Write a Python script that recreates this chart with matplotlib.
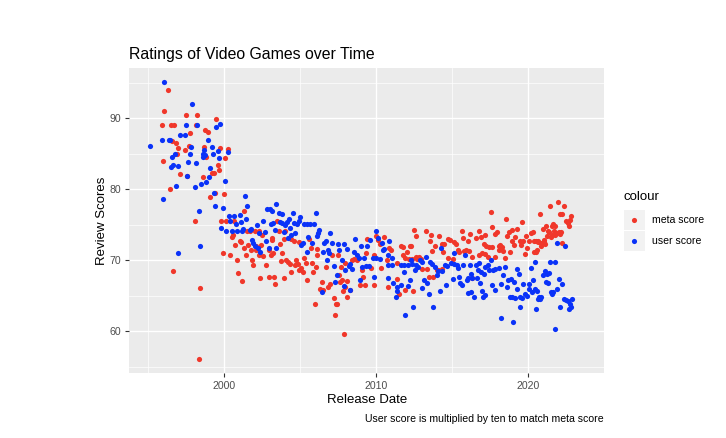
import matplotlib
matplotlib.use("Agg")
import matplotlib.pyplot as plt
from matplotlib.patches import Rectangle
from matplotlib.lines import Line2D

plt.rcParams['font.family'] = ['Liberation Sans', 'DejaVu Sans']

# ---- data (release date as decimal year, score) ----
meta_year = [
    1996.35, 1996.09, 1997.50, 1998.25, 1995.94, 1996.50, 1996.75, 1998.16, 1998.76, 1997.78,
    1996.60, 1996.83, 1998.67, 1997.69, 1996.99, 1997.44, 1996.94, 1996.03, 1997.10, 1997.57,
    1998.62, 1996.43, 1998.10, 1996.67, 1998.40, 1998.34,
    1999.50, 1998.93, 1999.76, 2000.26, 1998.80, 2000.08, 1999.60, 1999.70, 1999.23, 1999.36,
    1999.39, 1999.12, 2000.02, 2001.35, 1999.80, 2000.17, 2000.68, 1999.94, 2000.43, 2000.53,
    2000.60, 2000.75, 2001.07, 2001.13, 2001.30, 2000.85, 2001.45, 2001.60, 2000.94, 2001.17,
    2001.77, 2001.88, 2001.94, 2002.10, 2002.12, 2001.50, 2001.75, 2002.07, 2002.29, 2002.50,
    2002.42, 2002.29, 2002.60, 2002.78, 2002.37, 2003.00, 2003.30, 2003.14, 2003.20, 2003.08,
    2003.25, 2003.37,
    2003.48, 2003.60, 2004.00, 2003.97, 2004.44, 2004.60, 2004.94, 2003.69, 2002.95, 2003.85,
    2004.10, 2004.23, 2004.34, 2004.76, 2004.70, 2004.87, 2005.08, 2004.94, 2005.19, 2003.75,
    2003.95, 2004.44, 2005.40, 2005.77, 2006.05, 2005.45, 2005.26, 2005.62, 2005.72, 2006.15,
    2006.10, 2005.87, 2006.69, 2006.43, 2006.33, 2006.54, 2006.86, 2007.00, 2005.97, 2007.22,
    2007.37, 2007.47, 2007.29, 2007.90, 2007.76, 2007.97, 2007.82, 2008.08, 2007.13, 2007.54,
    2007.69,
    2007.56, 2007.67, 2008.10, 2008.31, 2008.00, 2008.46, 2008.59, 2008.74, 2008.95, 2009.27,
    2009.17, 2009.10, 2009.38, 2009.44, 2009.70, 2009.87, 2009.87, 2010.00, 2010.13, 2010.30,
    2010.34, 2010.51, 2010.88, 2010.99, 2010.72, 2011.37, 2011.52, 2010.77, 2011.62, 2011.80,
    2012.05, 2012.22, 2011.75, 2011.94, 2012.16, 2012.37, 2012.69, 2012.50, 2012.63, 2011.94,
    2012.44, 2011.37,
    2013.29, 2013.63, 2014.15, 2013.57, 2013.89, 2013.68, 2014.32, 2014.49, 2014.42, 2014.74,
    2014.85, 2015.13, 2015.28, 2015.43, 2015.64, 2015.71, 2016.03, 2016.20, 2016.56, 2016.77,
    2016.88, 2017.09, 2017.20, 2012.29, 2012.61, 2012.82, 2012.99, 2013.03, 2013.36, 2013.46,
    2013.78, 2014.00, 2014.10, 2014.32, 2014.74, 2015.06, 2015.49, 2015.77, 2015.92, 2016.13,
    2016.35, 2016.77, 2017.16, 2016.35,
    2017.54, 2018.54, 2019.61, 2020.79, 2021.45, 2021.96, 2022.09, 2017.22, 2017.43, 2017.64,
    2017.86, 2017.97, 2018.07, 2018.18, 2018.29, 2018.07, 2018.33, 2017.82, 2017.39, 2018.46,
    2018.61, 2018.76, 2018.93, 2018.97, 2018.82, 2019.10, 2019.31, 2019.18, 2019.46, 2019.67,
    2019.57, 2019.78, 2019.95, 2019.89, 2020.04, 2020.21, 2020.32, 2020.42, 2020.53, 2020.59,
    2020.68, 2020.85, 2020.96, 2021.06, 2021.17, 2021.28, 2021.32, 2021.49, 2021.60, 2021.70,
    2021.81, 2022.03, 2022.13, 2016.96, 2017.64,
    2022.39, 2022.22, 2022.86, 2022.74, 2022.52, 2022.65, 2022.70, 2021.67, 2021.80, 2021.41,
    2021.58, 2021.88, 2022.16, 2020.51, 2020.66, 2020.88, 2021.03, 2021.09, 2020.39, 2022.27,
]
meta_score = [
    94.0, 91.0, 90.5, 90.5, 89.0, 89.0, 89.0, 89.0, 88.3, 88.0,
    86.8, 86.5, 86.0, 86.1, 85.8, 85.5, 85.0, 84.0, 82.1, 81.9,
    81.8, 80.1, 75.6, 68.5, 66.1, 56.1,
    89.9, 88.1, 85.8, 85.7, 84.6, 84.4, 83.5, 82.8, 82.3, 82.3,
    79.5, 79.0, 79.3, 76.9, 75.6, 75.6, 75.6, 71.1, 70.8, 73.3,
    73.6, 72.2, 72.7, 72.6, 71.7, 70.0, 70.8, 72.2, 68.2, 67.1,
    71.5, 70.0, 69.3, 71.4, 72.1, 74.1, 74.1, 74.1, 74.1, 73.6,
    72.2, 70.7, 70.6, 69.3, 67.5, 67.7, 67.7, 72.9, 73.1, 70.8,
    71.0, 66.7,
    75.5, 74.1, 74.2, 73.0, 73.0, 72.8, 72.6, 72.3, 71.5, 71.1,
    70.1, 69.8, 69.5, 70.1, 69.3, 69.5, 68.9, 68.6, 68.3, 69.9,
    67.5, 68.3, 69.6, 69.6, 69.1, 67.2, 70.4, 73.0, 71.8, 71.6,
    70.7, 68.3, 69.1, 66.9, 66.0, 65.8, 66.2, 66.7, 63.8, 64.7,
    63.9, 63.9, 62.3, 59.6, 67.2, 66.2, 65.7, 64.8, 70.8, 70.7,
    69.1,
    67.9, 67.0, 67.1, 65.9, 69.7, 70.0, 70.2, 70.0, 66.5, 66.6,
    67.7, 68.6, 71.1, 73.0, 69.0, 66.5, 70.7, 73.5, 72.9, 72.3,
    69.0, 73.3, 71.7, 71.5, 70.0, 67.4, 65.3, 66.2, 72.0, 71.9,
    71.2, 72.0, 70.7, 70.4, 70.2, 70.2, 70.2, 74.3, 73.5, 65.9,
    65.7, 69.7,
    74.1, 73.6, 73.5, 72.8, 72.1, 71.3, 72.3, 72.3, 71.15, 73.0,
    72.9, 72.6, 72.3, 71.4, 74.2, 73.2, 72.8, 73.7, 73.2, 74.1,
    73.3, 72.3, 73.6, 72.1, 70.45, 70.5, 70.2, 68.8, 68.8, 67.6,
    67.6, 68.7, 68.6, 68.8, 70.3, 70.2, 71.15, 71.3, 71.5, 71.3,
    70.45, 70.7, 70.9, 67.5,
    76.8, 75.8, 75.4, 76.5, 77.6, 78.2, 76.5, 72.1, 71.85, 71.85,
    73.7, 73.96, 72.1, 72.2, 71.85, 71.4, 71.3, 70.45, 70.5, 70.35,
    73.5, 73.96, 74.3, 72.8, 71.2, 72.2, 74.4, 73.35, 72.8, 72.7,
    72.2, 70.9, 71.8, 73.5, 72.8, 73.8, 73.96, 72.8, 71.15, 71.4,
    72.8, 72.1, 74.4, 72.6, 74.9, 73.5, 74.1, 73.35, 74.9, 74.2,
    73.6, 73.96, 73.7, 71.0, 74.7,
    77.7, 76.5, 76.2, 75.75, 75.6, 75.3, 74.8, 75.1, 74.8, 74.0,
    73.55, 73.8, 74.0, 72.8, 72.6, 72.4, 72.9, 72.3, 71.2, 72.4,
]

user_year = [
    1996.09, 1997.93, 1997.52, 1998.25, 1995.94, 1996.39, 1996.47, 1997.10, 1997.44, 1995.17,
    1997.87, 1997.76, 1996.82, 1996.60, 1998.60, 1998.65, 1997.67, 1998.18, 1996.67, 1996.99,
    1996.50, 1997.57, 1996.83, 1998.10, 1998.50, 1998.85, 1996.03, 1998.34, 1998.40, 1997.00,
    1999.50, 1999.76, 1998.94, 1999.19, 1998.67, 1998.76, 1999.26, 1999.62, 2000.26, 1999.70,
    1999.10, 1999.00, 2000.08, 1999.36, 1999.44, 1999.94, 2001.37, 2001.50, 2000.37, 2000.64,
    2001.03, 2000.40, 2000.79, 2001.13, 2001.43, 1999.80, 2000.17, 2000.53, 2000.85, 2001.22,
    2001.28, 2001.69, 2001.80, 2001.86, 2001.92, 2002.03, 2002.24, 2002.15, 2002.30, 2002.69,
    2002.56, 2003.08, 2003.25, 2002.78, 2003.00, 2002.40, 2002.86, 2003.03, 2003.20, 2003.46,
    2003.35, 2003.40,
    2003.60, 2003.85, 2004.53, 2006.05, 2003.70, 2003.85, 2004.00, 2004.15, 2004.27, 2004.60,
    2004.80, 2004.94, 2005.04, 2004.36, 2003.95, 2004.66, 2004.40, 2005.26, 2005.47, 2005.68,
    2005.94, 2006.26, 2006.20, 2006.10, 2005.51, 2005.19, 2005.07, 2004.19, 2005.47, 2005.81,
    2006.99, 2006.74, 2006.60, 2006.86, 2006.94, 2007.12, 2007.54, 2007.92, 2006.52, 2006.78,
    2007.60, 2007.76, 2007.22, 2007.33, 2007.44, 2007.88, 2006.46, 2007.97,
    2008.10, 2008.60, 2008.53, 2008.74, 2008.90, 2009.23, 2008.31, 2008.20, 2008.46, 2009.05,
    2009.44, 2009.10, 2009.38, 2009.53, 2009.81, 2010.02, 2010.24, 2009.60, 2010.00, 2010.13,
    2010.38, 2009.85, 2008.95, 2008.31, 2010.45, 2010.56, 2010.77, 2011.09, 2011.03, 2010.77,
    2010.83, 2010.80, 2011.15, 2011.41, 2011.37, 2011.30, 2011.62, 2012.10, 2011.62, 2011.83,
    2012.10, 2012.37, 2012.60, 2012.26, 2011.94, 2012.44, 2011.88,
    2013.78, 2012.29, 2012.61, 2012.78, 2012.93, 2013.00, 2013.29, 2013.57, 2013.68, 2013.89,
    2014.06, 2014.00, 2014.36, 2014.53, 2014.70, 2014.92, 2015.13, 2015.34, 2015.39, 2015.71,
    2015.86, 2016.20, 2016.56, 2016.77, 2016.71, 2017.20, 2014.27, 2015.13, 2013.14, 2013.36,
    2013.03, 2013.50, 2014.21, 2014.64, 2015.06, 2015.49, 2015.56, 2015.64, 2015.98, 2016.07,
    2016.28, 2016.35, 2016.62, 2016.84, 2017.09, 2016.03, 2016.28, 2016.45, 2017.05, 2017.20,
    2016.90, 2017.39, 2017.43, 2017.60, 2017.69, 2017.82, 2017.64, 2017.82, 2016.96, 2018.11,
    2018.50, 2018.39, 2018.24, 2018.61, 2018.71, 2018.88, 2019.10, 2019.31, 2019.40, 2019.25,
    2018.82, 2018.97, 2019.18, 2019.46, 2019.67, 2019.78, 2019.61, 2019.95, 2020.04, 2020.21,
    2020.32, 2020.10, 2020.25, 2020.47, 2020.59, 2020.74, 2020.64, 2020.85, 2020.96, 2021.11,
    2021.23, 2021.32, 2021.45, 2021.75, 2021.60, 2021.53, 2021.92, 2022.03, 2022.13, 2019.46,
    2019.03, 2018.22, 2020.53, 2021.75, 2021.88,
    2022.44, 2021.41, 2022.22, 2021.16, 2021.67, 2020.45, 2020.77, 2022.37, 2022.65, 2022.91,
    2022.48, 2022.74, 2022.70, 2022.86,
]
user_score = [
    95.1, 92.0, 89.1, 89.1, 87.0, 87.0, 87.0, 87.6, 87.6, 86.1,
    86.0, 85.0, 85.0, 84.5, 85.0, 84.5, 83.9, 83.7, 83.5, 83.3,
    83.1, 81.9, 80.5, 80.3, 80.7, 81.0, 78.6, 77.0, 72.0, 71.1,
    88.8, 89.2, 87.0, 86.0, 85.5, 84.9, 85.0, 85.4, 85.2, 84.4,
    83.0, 81.7, 81.2, 79.5, 77.6, 77.4, 79.1, 77.6, 76.3, 76.2,
    76.4, 75.6, 75.1, 75.4, 75.9, 74.5, 74.1, 74.1, 74.1, 74.1,
    74.4, 74.3, 74.4, 72.9, 72.5, 72.1, 71.8, 75.0, 73.8, 74.0,
    75.5, 75.1, 75.2, 72.8, 71.8, 71.2, 77.2, 77.3, 76.9, 78.0,
    74.3, 71.7,
    76.7, 76.5, 76.7, 76.7, 75.4, 75.3, 75.0, 75.4, 75.8, 75.3,
    75.1, 75.6, 76.1, 74.5, 74.0, 73.9, 73.6, 75.1, 75.1, 75.1,
    75.1, 74.3, 73.8, 73.4, 73.3, 72.5, 72.2, 73.2, 71.2, 72.4,
    73.8, 72.8, 72.5, 71.5, 71.1, 72.5, 72.3, 72.3, 71.2, 70.1,
    71.5, 70.1, 69.2, 67.0, 67.9, 66.4, 65.5, 68.6,
    71.6, 73.0, 71.2, 70.7, 70.4, 70.4, 69.5, 69.2, 68.8, 72.0,
    72.0, 69.1, 69.2, 69.2, 70.4, 70.3, 70.2, 72.9, 74.1, 73.1,
    72.4, 67.6, 67.2, 65.9, 71.4, 71.6, 70.7, 70.4, 69.4, 69.4,
    72.7, 67.5, 66.8, 66.2, 65.7, 64.8, 66.5, 66.4, 69.4, 69.4,
    69.4, 69.5, 68.6, 67.2, 62.3, 63.5, 68.3,
    63.5, 70.1, 69.3, 69.1, 70.1, 69.8, 70.45, 69.8, 69.5, 69.1,
    68.5, 68.0, 68.5, 69.4, 69.2, 69.6, 69.5, 69.4, 68.9, 69.4,
    70.7, 69.4, 69.4, 69.7, 68.6, 69.1, 71.8, 71.1, 67.3, 66.8,
    66.1, 65.3, 65.7, 66.5, 67.4, 67.6, 66.8, 66.5, 67.3, 67.5,
    68.1, 67.5, 67.5, 66.8, 68.1, 65.4, 65.5, 64.9, 64.9, 65.2,
    68.3, 69.4, 68.6, 70.0, 68.7, 68.8, 66.5, 65.8, 65.7, 69.0,
    69.1, 67.9, 66.7, 66.2, 67.3, 67.4, 66.9, 68.8, 68.1, 66.0,
    64.8, 64.9, 64.7, 64.8, 66.7, 65.3, 64.7, 65.05, 66.7, 69.0,
    67.3, 66.0, 65.5, 69.8, 65.7, 64.8, 64.6, 64.9, 68.0, 68.5,
    68.1, 66.8, 69.8, 69.8, 65.3, 65.5, 66.0, 67.4, 63.5, 63.5,
    61.4, 61.9, 63.1, 60.3, 72.4,
    72.05, 68.2, 66.65, 67.0, 65.6, 66.0, 64.6, 64.6, 64.3, 64.6,
    64.4, 63.8, 63.2, 63.5,
]

series_labels = ["meta score", "user score"]
x_ticks = [2000, 2010, 2020]
x_minor = [1995, 2005, 2015, 2025]
y_ticks = [60, 70, 80, 90]
y_minor = [55, 65, 75, 85, 95]

RED = "#F0372A"
BLUE = "#0A32F8"
W, H = 726, 438

fig = plt.figure(figsize=(W / 100, H / 100), dpi=100)
ax = fig.add_axes([129.3 / W, 1 - 373 / H, (604 - 129.3) / W, (373 - 68.3) / H])
ax.set_facecolor("#EBEBEB")
for s in ax.spines.values():
    s.set_visible(False)

ax.scatter(meta_year, meta_score, s=14, color=RED, linewidths=0, zorder=3)
ax.scatter(user_year, user_score, s=14, color=BLUE, linewidths=0, zorder=3)

ax.margins(x=0.05, y=0.05)
ax.set_xticks(x_ticks)
ax.set_xticklabels([str(t) for t in x_ticks])
ax.set_xticks(x_minor, minor=True)
ax.set_yticks(y_ticks)
ax.set_yticks(y_minor, minor=True)
ax.grid(which="major", color="white", linewidth=1.0, zorder=0)
ax.grid(which="minor", color="white", linewidth=0.5, zorder=0)
ax.set_axisbelow(True)
ax.tick_params(which="major", length=2.7, width=0.8, color="#333333",
               labelsize=7.6, labelcolor="#4D4D4D", pad=3)
ax.tick_params(which="minor", length=0)

ax.set_xlabel("Release Date", fontsize=9.5, labelpad=2)
ax.set_ylabel("Review Scores", fontsize=9.5, labelpad=1.5)

fig.text(129.3 / W, 1 - 59 / H, "Ratings of Video Games over Time", fontsize=11.4,
         ha="left", va="baseline")
fig.text(604 / W, 1 - 419 / H, "User score is multiplied by ten to match meta score",
         fontsize=7.6, ha="right", va="center")

# legend (ggplot style, drawn manually)
fig.text(624 / W, 1 - 197.3 / H, "colour", fontsize=9.5, ha="left", va="center")
key_w, key_h = 20.5, 20.5
for i, (lab, col) in enumerate(zip(series_labels, [RED, BLUE])):
    top = 210 + i * key_h
    fig.patches.append(Rectangle((624 / W, 1 - (top + key_h) / H), key_w / W, key_h / H,
                                 transform=fig.transFigure, facecolor="#F2F2F2",
                                 edgecolor="none"))
    cy = top + key_h / 2
    fig.lines.append(Line2D([(624 + key_w / 2) / W], [1 - cy / H], transform=fig.transFigure,
                            marker="o", markersize=3.7, color=col, markeredgewidth=0,
                            linestyle="none"))
    fig.text(651.7 / W, 1 - cy / H, lab, fontsize=7.6, ha="left", va="center")

fig.savefig("out.png", dpi=100)
